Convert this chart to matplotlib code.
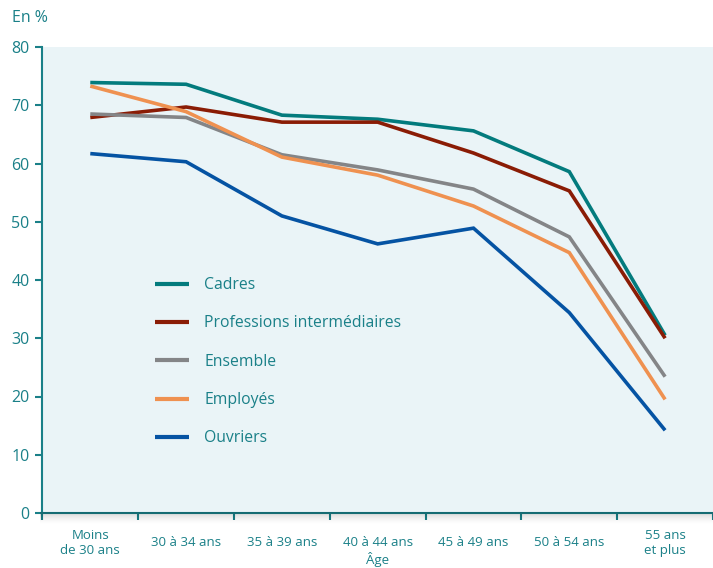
import numpy as np
import matplotlib.pyplot as plt
from matplotlib.patches import Rectangle

plt.rcParams['font.family'] = ['Open Sans', 'DejaVu Sans']

# age groups and rates (%) per socio-professional category
ages = ["Moins\nde 30 ans", "30 à 34 ans", "35 à 39 ans", "40 à 44 ans",
        "45 à 49 ans", "50 à 54 ans", "55 ans\net plus"]
cadres = [73.9, 73.6, 68.3, 67.6, 65.6, 58.6, 30.5]
prof_inter = [67.9, 69.7, 67.1, 67.1, 61.8, 55.3, 30.0]
ensemble = [68.5, 67.9, 61.5, 58.9, 55.6, 47.4, 23.4]
employes = [73.3, 68.9, 61.1, 58.0, 52.7, 44.7, 19.5]
ouvriers = [61.7, 60.3, 51.0, 46.2, 48.9, 34.4, 14.2]

series = [
    ("Cadres", cadres, "#037b7d"),
    ("Professions intermédiaires", prof_inter, "#8a1c05"),
    ("Ensemble", ensemble, "#848587"),
    ("Employés", employes, "#ef9150"),
    ("Ouvriers", ouvriers, "#0553a3"),
]

teal = "#1a8088"
bg = "#eaf4f7"

fig = plt.figure(figsize=(7.13, 5.68), dpi=100)
ax = fig.add_axes([42 / 713, 55 / 568, 1 - 42 / 713, 466 / 568])
ax.set_facecolor(bg)

# soft drop shadow under the plot frame
for i in range(12):
    fig.patches.append(Rectangle((40 / 713, (55 - i) / 568), 1, 1 / 568,
                                 transform=fig.transFigure,
                                 color="black", alpha=0.16 * (1 - i / 12) ** 1.5,
                                 zorder=0, lw=0))

x = np.arange(len(ages))
for name, vals, col in series:
    ax.plot(x, vals, color=col, lw=2.6, solid_capstyle="butt",
            solid_joinstyle="miter", label=name)

ax.set_xlim(-0.504, 6.39)
ax.set_ylim(0, 80)

for s in ["top", "right"]:
    ax.spines[s].set_visible(False)
for s in ["left", "bottom"]:
    ax.spines[s].set_color(teal)
    ax.spines[s].set_linewidth(1.5)

ax.set_yticks(np.arange(0, 81, 10))
ax.tick_params(axis="y", colors=teal, labelsize=11.5, length=5, width=1.5,
               pad=4)
ax.set_xticks(np.arange(-0.5, 7, 1.0))
ax.set_xticklabels([])
ax.set_xticks(x, minor=True)
ax.set_xticklabels(ages, minor=True, va="center")
ax.tick_params(axis="x", which="major", colors=teal, length=5, width=1.5)
ax.tick_params(axis="x", which="minor", length=0, labelcolor=teal,
               labelsize=9.5, pad=21.5)
for lbl in ax.get_xticklabels(minor=True):
    lbl.set_linespacing(1.25)

fig.text(ax.transData.transform((3, 0))[0] / fig.bbox.width, 1 / 568, "Âge",
         color=teal, fontsize=9.5, ha="center", va="bottom")
fig.text(12 / 713, 1 - 18 / 568, "En %", color=teal, fontsize=11.5,
         va="center", ha="left")

leg = ax.legend(loc="upper left", bbox_to_anchor=(0.168, 0.506),
                frameon=False, fontsize=11.3, labelcolor=teal, borderpad=0,
                borderaxespad=0, handlelength=2.2, handletextpad=0.95,
                labelspacing=1.42)
for h in leg.get_lines():
    h.set_linewidth(3)

fig.savefig("out.png", dpi=100)
